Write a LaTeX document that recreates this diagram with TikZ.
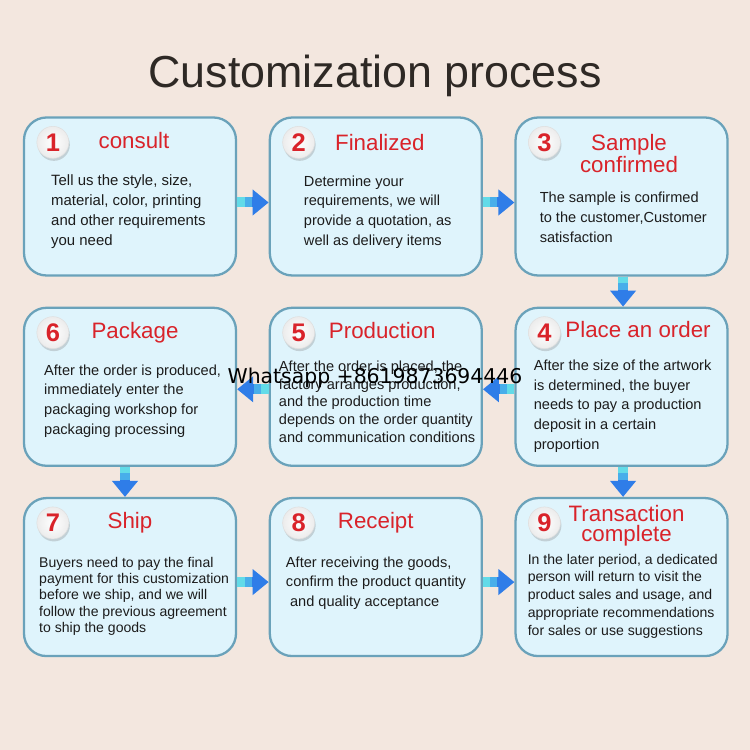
\documentclass[tikz,border=0pt]{standalone}
\usepackage{fontspec}
\setmainfont{Liberation Sans}
\newfontfamily\wmfont{DejaVu Sans}
\usetikzlibrary{positioning,calc,arrows.meta,shadows}
\definecolor{paper}{HTML}{F3E7DF}
\definecolor{boxfill}{HTML}{DFF4FC}
\definecolor{boxline}{HTML}{6AA2BA}
\definecolor{stepred}{HTML}{D9232A}
\definecolor{inktext}{HTML}{1C1C1C}
\definecolor{titleink}{HTML}{2E2925}
\definecolor{arrowcyan}{HTML}{62DBE8}
\definecolor{arrowmid}{HTML}{48AEEA}
\definecolor{arrowblue}{HTML}{2F7DE8}
\tikzset{stepbox/.style={draw=boxline,line width=1.3pt,rounded corners=.45cm,fill=boxfill,minimum width=4.24cm,minimum height=3.16cm,inner sep=0pt},num/.style={circle,minimum size=.64cm,inner sep=0pt,draw=gray!25,line width=.3pt,inner color=white,outer color=gray!15,drop shadow={opacity=.3,shadow xshift=.02cm,shadow yshift=-.05cm},text=stepred,font=\fontsize{14.5}{14}\selectfont\bfseries},head/.style={text=stepred,font=\fontsize{12.7}{12.6}\selectfont,align=center,anchor=base,inner sep=0pt},body/.style={text=inktext,align=left,anchor=base west,inner sep=0pt,font=\fontsize{8.3}{11.3}\selectfont},flow/.style={line width=.2cm,draw=arrowblue,-{Triangle[width=.5cm,length=.32cm]},postaction={draw=arrowmid,arrows=-,shorten >=.34cm},postaction={draw=arrowcyan,arrows=-,shorten >=.48cm}}}
\begin{document}
\begin{tikzpicture}[node distance=6mm and 6.3mm]
\fill[paper] (0,0) rectangle (15,15);
\node[text=titleink,font=\fontsize{25.5}{26}\selectfont,anchor=base] (title) at (7.5,13.24) {Customization process};
% the nine steps, snake order
\node[stepbox] (b1) at (2.6,11.07) {};
\node[stepbox,right=of b1] (b2) {};
\node[stepbox,right=of b2] (b3) {};
\node[stepbox,below=of b3] (b4) {};
\node[stepbox,left=of b4] (b5) {};
\node[stepbox,left=of b5] (b6) {};
\node[stepbox,below=of b6] (b7) {};
\node[stepbox,right=of b7] (b8) {};
\node[stepbox,right=of b8] (b9) {};
\foreach \i in {1,...,9}\node[num] (n\i) at ($(b\i.north west)+(.6,-.52)$) {\i};
% base anchor sits on the last line
\node[head] (h1) at ($(b1.north)+(.08,-.65)$) {consult};
\node[head] (h2) at ($(b2.north)+(.08,-.69)$) {Finalized};
\node[head] (h3) at ($(b3.north)+(.15,-1.12)$) {Sample\\confirmed};
\node[head] (h4) at ($(b4.north)+(.33,-.62)$) {Place an order};
\node[head] (h5) at ($(b5.north)+(.13,-.63)$) {Production};
\node[head] (h6) at ($(b6.north)+(.10,-.63)$) {Package};
\node[head] (h7) at ($(b7.north)+(0,-.64)$) {Ship};
\node[head] (h8) at ($(b8.north)+(0,-.64)$) {Receipt};
\node[head,font=\fontsize{12.7}{11.3}\selectfont] (h9) at ($(b9.north)+(.10,-.89)$) {Transaction\\complete};
\node[body,font=\fontsize{8.5}{11.3}\selectfont] (t1) at ($(b1.north west)+(.56,-2.58)$) {Tell us the style, size,\\material, color, printing\\and other requirements\\you need};
\node[body,font=\fontsize{8.3}{11.2}\selectfont] (t2) at ($(b2.north west)+(.70,-2.58)$) {Determine your\\requirements, we will\\provide a quotation, as\\well as delivery items};
\node[body] (t3) at ($(b3.north west)+(.50,-2.52)$) {The sample is confirmed\\to the customer,Customer\\satisfaction};
\node[body,font=\fontsize{8.3}{11.2}\selectfont] (t4) at ($(b4.north west)+(.38,-2.85)$) {After the size of the artwork\\is determined, the buyer\\needs to pay a production\\deposit in a certain\\proportion};
\node[body,font=\fontsize{8.3}{10}\selectfont] (t5) at ($(b5.north west)+(.20,-2.71)$) {After the order is placed, the\\factory arranges production,\\and the production time\\depends on the order quantity\\and communication conditions};
\node[body] (t6) at ($(b6.north west)+(.42,-2.56)$) {After the order is produced,\\immediately enter the\\packaging workshop for\\packaging processing};
\node[body,font=\fontsize{8}{9.3}\selectfont] (t7) at ($(b7.north west)+(.32,-2.71)$) {Buyers need to pay the final\\payment for this customization\\before we ship, and we will\\follow the previous agreement\\to ship the goods};
\node[body,font=\fontsize{8.3}{11.2}\selectfont] (t8) at ($(b8.north west)+(.34,-2.19)$) {After receiving the goods,\\confirm the product quantity\\\ and quality acceptance};
\node[body,font=\fontsize{8}{10.15}\selectfont] (t9) at ($(b9.north west)+(.26,-2.77)$) {In the later period, a dedicated\\person will return to visit the\\product sales and usage, and\\appropriate recommendations\\for sales or use suggestions};
% arrows between the steps
\foreach \a/\b in {b1/b2,b2/b3}\draw[flow] ([yshift=-1.2mm]\a.east)--([yshift=-1.2mm]\b.west);
\foreach \a/\b in {b4/b5,b5/b6}\draw[flow] ([yshift=-.5mm]\a.west)--([yshift=-.5mm]\b.east);
\foreach \a/\b in {b7/b8,b8/b9}\draw[flow] ([yshift=-1mm]\a.east)--([yshift=-1mm]\b.west);
\draw[flow] ([xshift=.3mm]b3.south)--([xshift=.3mm]b4.north);
\draw[flow] ([xshift=-1mm]b6.south)--([xshift=-1mm]b7.north);
\draw[flow] ([xshift=.3mm]b4.south)--([xshift=.3mm]b9.north);
\node[font=\wmfont\fontsize{11.6}{12}\selectfont,anchor=base,inner sep=0pt] (wm) at (7.5,7.33) {Whatsapp +8619873694446};
\end{tikzpicture}
\end{document}
